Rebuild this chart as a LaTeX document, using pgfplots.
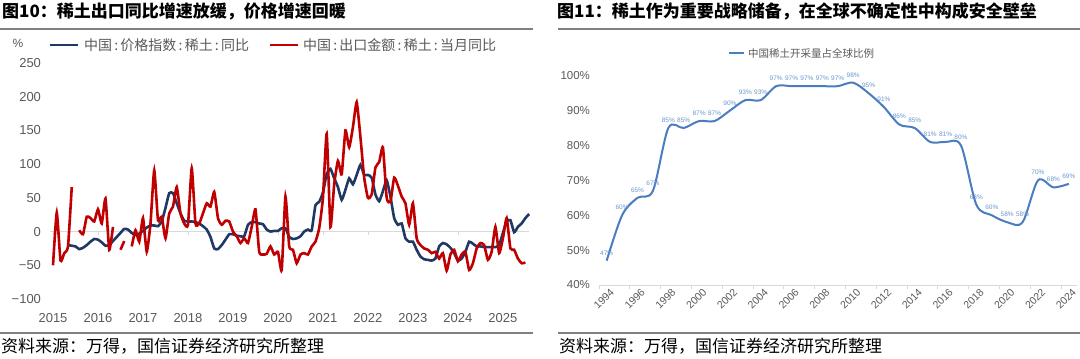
\documentclass[border=0pt]{standalone}
\usepackage{fontspec}
\setmainfont{Liberation Sans}
\newfontfamily\cjk{Noto Sans CJK SC}
\usepackage{pgfplots}
\usepackage{pgfplotstable}
\pgfplotsset{compat=1.18}
\definecolor{navy}{HTML}{1F3864}
\definecolor{dred}{HTML}{C00000}
\definecolor{lblue}{HTML}{4A7CC0}
\definecolor{lbl}{HTML}{6A95CF}
\definecolor{txt}{HTML}{595959}
\definecolor{rulec}{HTML}{808080}
\definecolor{zl}{HTML}{D9D9D9}
\newcommand{\cl}{\hspace{2.2pt}:\hspace{2.2pt}}

\pgfplotstableread{
m blue red
0 nan -50
1 nan 28
2 nan -43
3 nan -32
4 -20 -22
5 -21 66
6 -22 nan
7 -26 2
8 -24 -4
9 -20 22
10 -15 20
11 -11 15
12 -12 33
13 -16 12
14 -21 49
15 -20 -27
16 -14 7
17 -8 nan
18 -2 -27
19 4 -14
20 3 nan
21 -2 -22
22 -5 2
23 -3 -15
24 1 20
25 6 -30
26 9 12
27 9 91
28 8 17
29 15 22
30 35 -10
31 57 27
32 57 37
33 42 66
34 27 27
35 16 12
36 15 10
37 15 94
38 14 12
39 12 12
40 8 27
41 3 42
42 -8 37
43 -25 59
44 -26 20
45 -20 10
46 -12 16
47 -4 15
48 -4 0
49 -6 -7
50 -7 -17
51 -7 -10
52 10 -17
53 14 7
54 14 33
55 12 -30
56 11 -34
57 3 -33
58 0 -22
59 1 -34
60 1 -30
61 5 -57
62 5 52
63 -8 -22
64 -11 -27
65 -10 -47
66 -7 -34
67 0 -32
68 3 -34
69 2 -22
70 39 -15
71 44 5
72 58 50
73 85 145
74 93 7
75 79 70
76 66 105
77 47 85
78 62 150
79 79 125
80 70 155
81 84 192
82 99 140
83 84 80
84 84 50
85 80 55
86 55 95
87 45 103
88 60 125
89 76 50
90 52 44
91 20 80
92 10 68
93 12 52
94 -10 42
95 -15 10
96 -15 42
97 -27 -10
98 -37 -20
99 -41 -25
100 -42 -27
101 -43 -32
102 -40 -30
103 -22 -40
104 -17 -32
105 -19 -58
106 -24 -34
107 -32 -27
108 -43 -44
109 -40 -34
110 -30 -30
111 -15 -57
112 -18 -47
113 -22 -25
114 -22 -17
115 -23 -20
116 -23 -42
117 -23 -30
118 -23 7
119 -20 -32
120 -2 -10
121 15 20
122 17 -25
123 -1 -27
124 7 -40
125 12 -47
126 20 -46
127 26 nan
}\lefttab

\pgfplotstableread{
yr v
1994 47
1995 60
1996 65
1997 67
1998 85
1999 85
2000 87
2001 87
2002 90
2003 93
2004 93
2005 97
2006 97
2007 97
2008 97
2009 97
2010 98
2011 95
2012 91
2013 86
2014 85
2015 81
2016 81
2017 80
2018 63
2019 60
2020 58
2021 58
2022 70
2023 68
2024 69
}\righttab

\begin{document}
\begin{tikzpicture}[x=1pt,y=1pt]
\path[use as bounding box] (0,0) rectangle (1080,-359);

% ---------- titles and rules ----------
\node[anchor=west, inner sep=0pt, font=\cjk\bfseries\fontsize{17}{20}\selectfont] at (2,-11.5) {图10：稀土出口同比增速放缓，价格增速回暖};
\node[anchor=west, inner sep=0pt, font=\cjk\bfseries\fontsize{17}{20}\selectfont] at (557,-11.5) {图11：稀土作为重要战略储备，在全球不确定性中构成安全壁垒};
\draw[rulec, line width=2.3pt] (0,-29) -- (533,-29);
\draw[rulec, line width=2.3pt] (558,-29) -- (1080,-29);
\draw[rulec, line width=2.3pt] (0,-333) -- (533,-333);
\draw[rulec, line width=2.3pt] (558,-333) -- (1080,-333);
\node[anchor=west, inner sep=0pt, font=\cjk\fontsize{17}{20}\selectfont] at (1,-346) {资料来源：万得，国信证券经济研究所整理};
\node[anchor=west, inner sep=0pt, font=\cjk\fontsize{17}{20}\selectfont] at (559,-346) {资料来源：万得，国信证券经济研究所整理};

% ---------- left legend ----------
\node[anchor=center, inner sep=0pt, text=txt, font=\fontsize{12}{12}\selectfont] at (18,-43) {\%};
\draw[navy, line width=2.6pt] (50,-45) -- (78,-45);
\node[anchor=west, inner sep=0pt, text=txt, font=\cjk\fontsize{14}{14}\selectfont] at (84,-45) {中国\cl 价格指数\cl 稀土\cl 同比};
\draw[dred, line width=2.6pt] (270,-45) -- (298,-45);
\node[anchor=west, inner sep=0pt, text=txt, font=\cjk\fontsize{14}{14}\selectfont] at (303,-45) {中国\cl 出口金额\cl 稀土\cl 当月同比};

% ---------- right legend ----------
\draw[lblue, line width=1.6pt] (729,-53) -- (744,-53);
\node[anchor=west, inner sep=0pt, text=txt, font=\cjk\fontsize{10.5}{11}\selectfont] at (748,-53) {中国稀土开采量占全球比例};

% ---------- left chart ----------
\begin{axis}[
  at={(50pt,-299pt)}, anchor=south west, scale only axis,
  width=479pt, height=236pt,
  xmin=2014.933, xmax=2025.58, ymin=-100, ymax=250,
  axis line style={draw=none}, major tick length=0pt,
  xtick={2015,...,2025}, ytick={-100,-50,...,250},
  yticklabels={−100,−50,0,50,100,150,200,250},
  /pgf/number format/assume math mode=true,
  /pgf/number format/1000 sep={},
  ticklabel style={font=\fontsize{13}{13}\selectfont, text=txt},
  x tick label style={yshift=-11pt},
  y tick label style={xshift=-5.5pt},
  unbounded coords=jump,
  clip=false,
]
\draw[zl, line width=1pt] (axis cs:2014.933,0) -- (axis cs:2025.58,0);
\pgfplotsinvokeforeach{2015,...,2025}{\draw[zl, line width=0.8pt] (axis cs:#1,0) -- ++(0pt,-3pt);}
\addplot[navy, line width=2.6pt, smooth, tension=0.3] table[x expr=2015+\thisrow{m}/12, y=blue]{\lefttab};
\addplot[dred, line width=2.6pt, smooth, tension=0.3] table[x expr=2015+\thisrow{m}/12, y=red]{\lefttab};
\end{axis}

% ---------- right chart ----------
\begin{axis}[
  at={(599pt,-285pt)}, anchor=south west, scale only axis,
  width=477.5pt, height=209.3pt,
  xmin=1993.5, xmax=2024.5, ymin=40, ymax=100,
  axis x line*=bottom, axis y line*=left,
  x axis line style={zl, line width=0.9pt},
  y axis line style={draw=none},
  xtick={1994,1996,...,2024},
  minor xtick={1993.5,1995.5,...,2023.5},
  major tick length=0pt, minor tick length=4pt, tick align=outside,
  minor tick style={zl, line width=0.9pt},
  ytick={40,50,...,100},
  yticklabels={40\%,50\%,60\%,70\%,80\%,90\%,100\%},
  /pgf/number format/assume math mode=true,
  /pgf/number format/1000 sep={},
  ticklabel style={font=\fontsize{11.5}{12}\selectfont, text=txt},
  x tick label style={font=\fontsize{10.5}{11}\selectfont, rotate=45, anchor=north east, inner sep=1pt, xshift=1pt, yshift=-3pt},
  y tick label style={xshift=-5.5pt},
  clip=false,
]
\addplot[lblue, line width=2pt, smooth, tension=0.5,
  nodes near coords={\pgfmathprintnumber[fixed,precision=0]{\pgfplotspointmeta}\%},
  point meta=y,
  every node near coord/.append style={font=\fontsize{6.5}{7}\selectfont, text=lbl, anchor=south, inner sep=0.5pt, yshift=4pt}]
  table[x=yr, y=v]{\righttab};
\end{axis}
\end{tikzpicture}
\end{document}
